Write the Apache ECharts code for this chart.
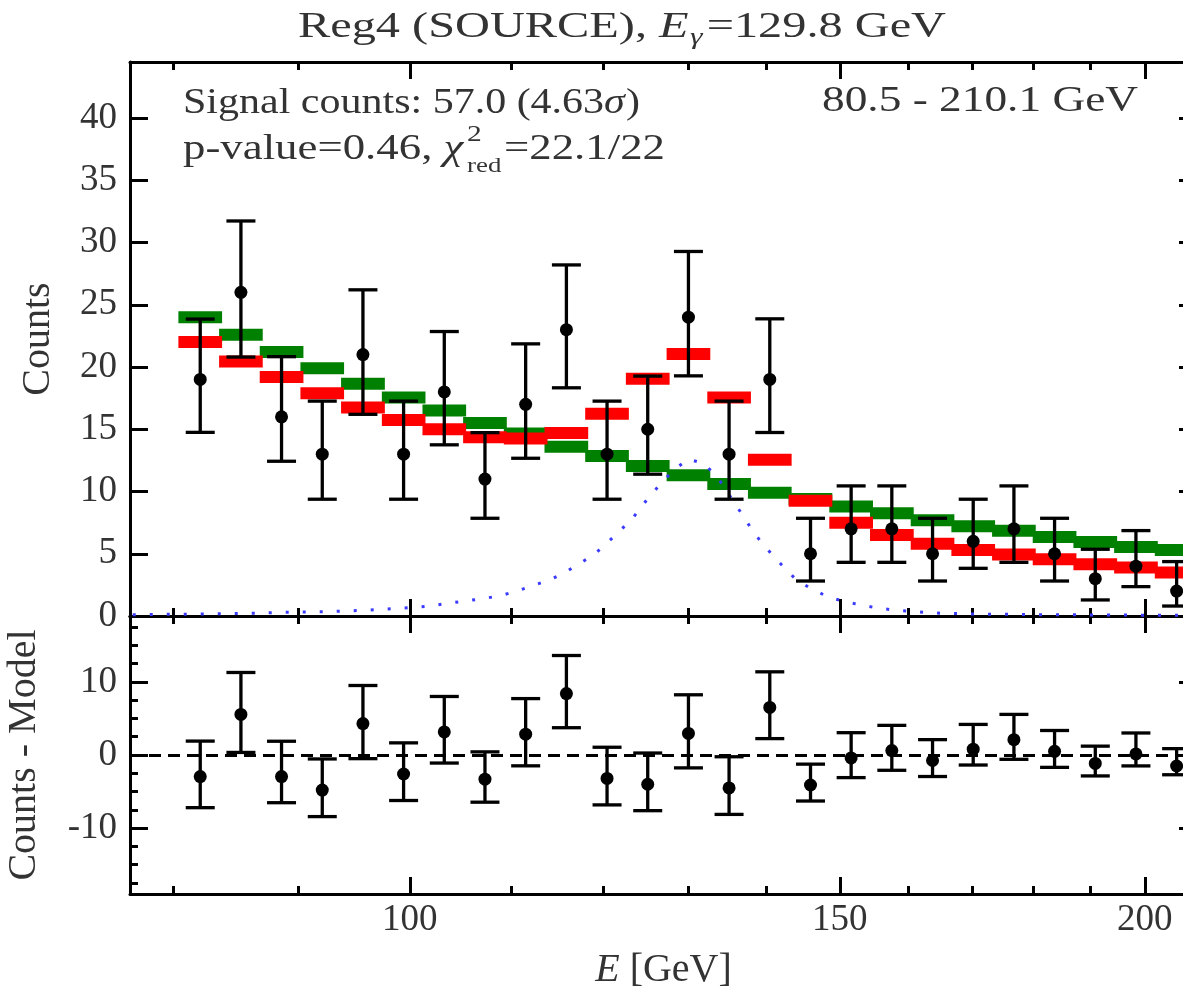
<!DOCTYPE html>
<html>
<head>
<meta charset="utf-8">
<script src="https://cdn.jsdelivr.net/npm/echarts@6/dist/echarts.min.js"></script>
<style>
html,body{margin:0;padding:0;background:#fff;}
#chart{width:1183px;height:989px;}
</style>
</head>
<body>
<div id="chart"></div>
<script>
// energy bins [GeV], 25 log-spaced bins 80.5 - 210.1
var binEdges = [80.5, 83.65, 86.92, 90.32, 93.85, 97.53, 101.34, 105.30, 109.42, 113.70, 118.15, 122.77, 127.58,
  132.57, 137.75, 143.14, 148.74, 154.56, 160.61, 166.89, 173.42, 180.20, 187.25, 194.58, 202.19, 210.1];
var binCenters = [82.06, 85.27, 88.60, 92.07, 95.67, 99.41, 103.30, 107.34, 111.54, 115.91, 120.44, 125.15, 130.05,
  135.13, 140.42, 145.92, 151.62, 157.55, 163.72, 170.12, 176.78, 183.69, 190.88, 198.34, 206.10];

var counts = [19, 26, 16, 13, 21, 13, 18, 11, 17, 23, 13, 15, 24, 13, 19, 5, 7, 7, 5, 6, 7, 5, 3, 4, 2];
var errUp = [4.85, 5.73, 4.83, 4.26, 5.2, 4.26, 4.85, 3.73, 4.86, 5.2, 4.26, 4.27, 5.28, 4.26, 4.87,
  2.85, 3.45, 3.45, 2.85, 3.38, 3.45, 2.85, 2.36, 2.86, 2.37];
var errDown = [4.25, 5.2, 3.57, 3.62, 4.8, 3.62, 4.25, 3.15, 4.33, 4.67, 3.62, 3.61, 4.71, 3.62, 4.26,
  2.19, 2.69, 2.69, 2.19, 2.17, 2.69, 2.19, 1.71, 1.64, 1.2];

// background only (green) and background + line (red)
var bkgModel = [24.0, 22.6, 21.2, 19.9, 18.65, 17.55, 16.5, 15.5, 14.65, 13.6, 12.85, 12.05, 11.3,
  10.6, 9.9, 9.4, 8.8, 8.25, 7.7, 7.2, 6.85, 6.35, 5.95, 5.55, 5.3];
var totModel = [22.0, 20.45, 19.2, 17.9, 16.75, 15.75, 15.0, 14.35, 14.25, 14.7, 16.25, 19.05, 21.05,
  17.55, 12.55, 9.25, 7.5, 6.5, 5.8, 5.3, 4.95, 4.55, 4.15, 3.9, 3.5];

var residual = [-2.95, 5.55, -2.95, -4.8, 4.3, -2.6, 3.15, -3.3, 2.85, 8.4, -3.2, -4.0, 2.95,
  -4.5, 6.5, -4.1, -0.4, 0.6, -0.75, 0.8, 2.1, 0.5, -1.15, 0.15, -1.5];

// line component (blue dotted)
var signalE = [77, 81, 85.2, 89.3, 92.7, 95.5, 98.8, 101.9, 103.5, 107.2, 108.9, 110.6, 112.3, 114.1, 115.7,
  117.4, 119.0, 120.4, 121.8, 123.3, 124.4, 125.6, 127.0, 128.3, 130.0, 131.9, 133.5, 134.6, 135.7, 137.0,
  138.1, 139.4, 140.9, 142.5, 144.0, 146.2, 148.3, 150.7, 153.1, 155.6, 158.0, 163.3, 170.4, 182.9, 210];
var signalCounts = [0.1, 0.15, 0.2, 0.3, 0.35, 0.45, 0.6, 0.8, 1.0, 1.4, 1.63, 2.0, 2.44, 2.9, 3.48,
  4.23, 4.96, 5.84, 6.78, 7.77, 8.79, 9.78, 10.85, 11.74, 12.6, 12.27, 11.25, 10.26, 9.19, 7.98,
  6.91, 5.84, 4.82, 3.78, 2.9, 2.14, 1.55, 1.15, 0.88, 0.62, 0.48, 0.25, 0.16, 0.1, 0.05];

var xMajor = [100, 150, 200];
var xMinor = [80, 90, 110, 120, 130, 140, 160, 170, 180, 190];
var countTicks = [0, 5, 10, 15, 20, 25, 30, 35, 40];
var resMajor = [-10, 0, 10];
var resMinor = [-17.5, -15, -12.5, -7.5, -5, -2.5, 2.5, 5, 7.5, 12.5, 15, 17.5];

var FONT = 'Liberation Serif';
var FS = 37;
var FT = 35;   // annotation text
var TXT = '#333';
var XMIN = 76.8, XMAX = 210.1;

var tickStyle = { color: '#000', width: 3 };
var frameLine = { show: true, onZero: false, lineStyle: { color: '#000', width: 3 } };
var noLine = { show: false, onZero: false };
var labelStyle = { fontFamily: FONT, fontSize: FS, color: TXT };
var nameStyle = { fontFamily: FONT, fontSize: 40, color: TXT };

function xAxisDef(grid, pos, ticks, len, withLine, labels, name) {
  return {
    type: 'log', logBase: 10, gridIndex: grid, position: pos, min: XMIN, max: XMAX,
    axisLine: withLine ? frameLine : noLine,
    axisTick: { show: true, inside: true, length: len, lineStyle: tickStyle, customValues: ticks },
    axisLabel: labels ? Object.assign({ customValues: xMajor, margin: 8 }, labelStyle) : { show: false },
    splitLine: { show: false }, minorTick: { show: false }, minorSplitLine: { show: false },
    name: name || '', nameLocation: 'middle', nameGap: 56,
    nameTextStyle: Object.assign({ rich: { i: { fontFamily: FONT, fontSize: 40, color: TXT, fontStyle: 'italic' } } }, nameStyle)
  };
}

function yAxisDef(grid, pos, min, max, ticks, len, withLine, labels, name, gap) {
  return {
    type: 'value', gridIndex: grid, position: pos, min: min, max: max,
    axisLine: withLine ? frameLine : noLine,
    axisTick: { show: true, inside: true, length: len, lineStyle: tickStyle, customValues: ticks },
    axisLabel: labels ? Object.assign({ customValues: ticks, margin: 13 }, labelStyle) : { show: false },
    splitLine: { show: false },
    name: name || '', nameLocation: 'middle', nameGap: gap || 0,
    nameTextStyle: nameStyle
  };
}

function binData(model) {
  return model.map(function (v, i) { return [binEdges[i], binEdges[i + 1], v]; });
}
function pointData(vals) {
  return vals.map(function (v, i) { return [binCenters[i], v, v - errDown[i], v + errUp[i]]; });
}

function renderBin(params, api) {
  var a = api.coord([api.value(0), api.value(2)]);
  var b = api.coord([api.value(1), api.value(2)]);
  return {
    type: 'rect',
    shape: { x: a[0] - 1.5, y: a[1] - 6, width: b[0] - a[0] + 3, height: 12 },
    style: { fill: api.visual('color') }
  };
}

function renderPoint(params, api) {
  var x = api.value(0);
  var p = api.coord([x, api.value(1)]);
  var lo = api.coord([x, api.value(2)]);
  var hi = api.coord([x, api.value(3)]);
  var cap = 14.5;
  var ls = { stroke: '#000', lineWidth: 3.3 };
  return {
    type: 'group',
    children: [
      { type: 'line', shape: { x1: p[0], y1: lo[1], x2: p[0], y2: hi[1] }, style: ls },
      { type: 'line', shape: { x1: p[0] - cap, y1: lo[1], x2: p[0] + cap, y2: lo[1] }, style: ls },
      { type: 'line', shape: { x1: p[0] - cap, y1: hi[1], x2: p[0] + cap, y2: hi[1] }, style: ls },
      { type: 'circle', shape: { cx: p[0], cy: p[1], r: 6.5 }, style: { fill: '#000' } }
    ]
  };
}

// text rows built from pieces, stretched to the width they take in the figure
var ctx = document.createElement('canvas').getContext('2d');
function fontStr(size, italic) { return (italic ? 'italic ' : '') + size + 'px "' + FONT + '"'; }
function measure(t, f) { ctx.font = f; return ctx.measureText(t).width; }
function textRow(pieces, left, top, width) {
  var x = 0, kids = [];
  pieces.forEach(function (p) {
    var f = fontStr(p.size || FT, p.italic);
    kids.push({ type: 'text', x: x, y: p.dy || 0, style: { text: p.t, font: f, fill: TXT, verticalAlign: 'top' } });
    if (!p.stack) x += measure(p.t, f) + (p.gap || 0);
  });
  return { type: 'group', x: left, y: top, scaleX: width / x, children: kids };
}

var chart = echarts.init(document.getElementById('chart'));
chart.setOption({
  animation: false,
  backgroundColor: '#fff',
  graphic: [
    textRow([
      { t: 'Reg4 (SOURCE), ' }, { t: 'E', italic: true, gap: 1 },
      { t: 'γ', italic: true, size: 23, dy: 16, gap: 3 }, { t: '=129.8 GeV' }
    ], 298, 10, 648),
    textRow([
      { t: 'Signal counts: 57.0 (4.63' }, { t: 'σ', italic: true, gap: 1 }, { t: ')' }
    ], 183, 86, 457),
    textRow([
      { t: 'p-value=0.46, ' }, { t: 'χ', italic: true, gap: 3 },
      { t: '2', size: 23, dy: -9, stack: true }, { t: 'red', size: 21, dy: 24, gap: 2 },
      { t: '=22.1/22' }
    ], 183, 132, 482),
    textRow([{ t: '80.5 - 210.1 GeV' }], 822, 84, 316)
  ],
  grid: [
    { left: 130, right: -14, top: 62, height: 554, outerBoundsMode: 'none' },
    { left: 130, right: -14, top: 616, height: 278, outerBoundsMode: 'none' }
  ],
  xAxis: [
    xAxisDef(0, 'bottom', xMajor, 17, true, false),
    xAxisDef(0, 'bottom', xMinor, 8, false, false),
    xAxisDef(0, 'top', xMajor, 17, true, false),
    xAxisDef(0, 'top', xMinor, 8, false, false),
    xAxisDef(1, 'bottom', xMajor, 17, true, true, '{i|E} [GeV]'),
    xAxisDef(1, 'bottom', xMinor, 8, false, false),
    xAxisDef(1, 'top', xMajor, 17, true, false),
    xAxisDef(1, 'top', xMinor, 8, false, false)
  ],
  yAxis: [
    yAxisDef(0, 'left', 0, 44.5, countTicks, 18, true, true, 'Counts', 72),
    yAxisDef(0, 'right', 0, 44.5, countTicks, 18, true, false),
    yAxisDef(1, 'left', -19, 19, resMajor, 18, true, true, 'Counts - Model', 86),
    yAxisDef(1, 'left', -19, 19, resMinor, 8, false, false),
    yAxisDef(1, 'right', -19, 19, resMajor, 18, true, false),
    yAxisDef(1, 'right', -19, 19, resMinor, 8, false, false)
  ],
  series: [
    {
      type: 'custom', name: 'background', xAxisIndex: 0, yAxisIndex: 0,
      renderItem: renderBin, data: binData(bkgModel), encode: { x: [0, 1], y: 2 },
      itemStyle: { color: '#008000' }, z: 2
    },
    {
      type: 'custom', name: 'total', xAxisIndex: 0, yAxisIndex: 0,
      renderItem: renderBin, data: binData(totModel), encode: { x: [0, 1], y: 2 },
      itemStyle: { color: '#ff0000' }, z: 3
    },
    {
      type: 'line', name: 'line', xAxisIndex: 0, yAxisIndex: 0,
      data: signalE.map(function (e, i) { return [e, signalCounts[i]]; }),
      showSymbol: false, symbol: 'none', smooth: false,
      lineStyle: { color: '#3b3bff', width: 3, type: [3, 14] }, z: 4
    },
    {
      type: 'custom', name: 'counts', xAxisIndex: 0, yAxisIndex: 0,
      renderItem: renderPoint, data: pointData(counts), encode: { x: 0, y: [1, 2, 3] }, z: 5
    },
    {
      type: 'custom', name: 'residual', xAxisIndex: 4, yAxisIndex: 2,
      renderItem: renderPoint, data: pointData(residual), encode: { x: 0, y: [1, 2, 3] }, z: 5,
      markLine: {
        silent: true, symbol: 'none', label: { show: false },
        lineStyle: { color: '#000', width: 3, type: [12, 7] },
        data: [{ yAxis: 0 }]
      }
    }
  ]
});
</script>
</body>
</html>
